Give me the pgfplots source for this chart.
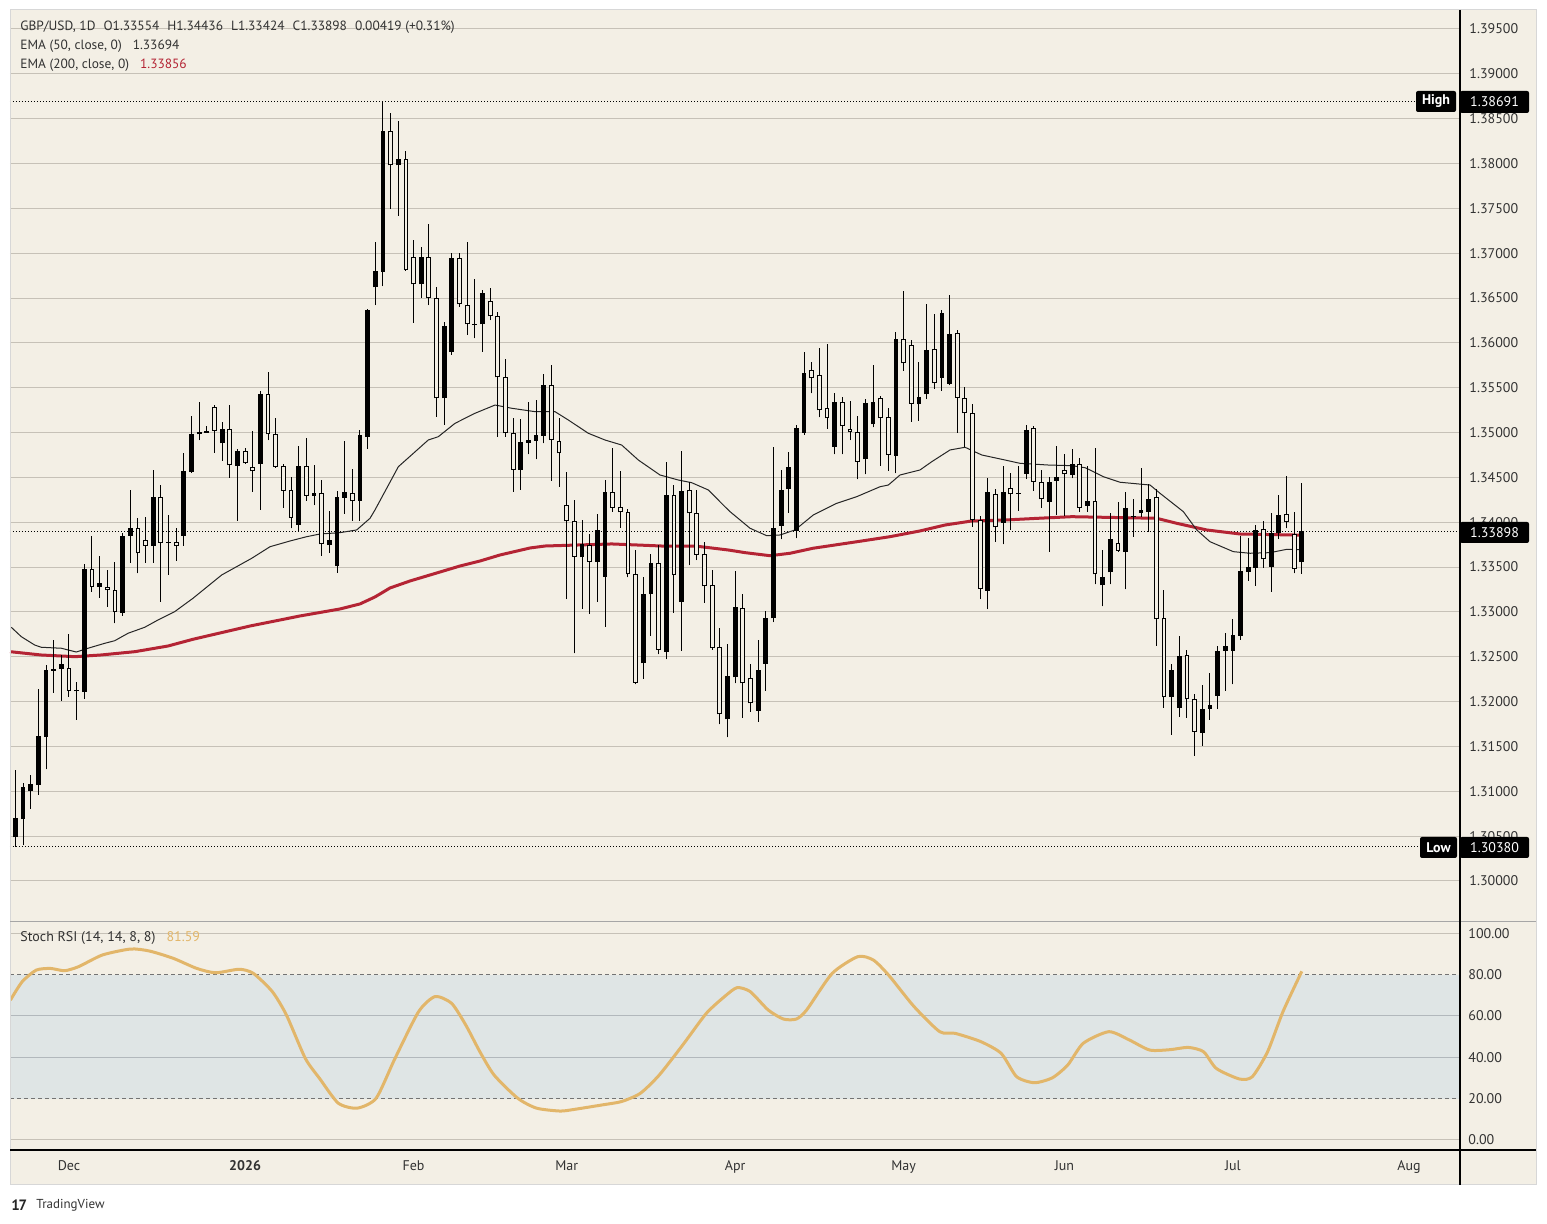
\documentclass[border=0pt]{standalone}
\usepackage{fontspec}
\setmainfont{PT Sans}
\usepackage{pgfplots}
\usepackage{pgfplotstable}
\pgfplotsset{compat=1.18}
\definecolor{bg}{RGB}{243,239,229}
\definecolor{gridc}{RGB}{198,193,183}
\definecolor{band}{RGB}{223,229,229}
\definecolor{bandgrid}{RGB}{178,184,188}
\definecolor{emared}{RGB}{180,36,52}
\definecolor{stochc}{RGB}{226,182,106}
\definecolor{txt}{RGB}{50,50,50}
\definecolor{frame}{RGB}{215,215,215}

\pgfplotstableread{
i o h l c
-7 1.30487 1.31238 1.30380 1.30699
-6 1.30691 1.31089 1.30401 1.31051
-5 1.31007 1.31179 1.30806 1.31082
-4 1.31070 1.32141 1.30959 1.31617
-3 1.31609 1.32408 1.31245 1.32353
-2 1.32345 1.32687 1.32100 1.32360
-1 1.32367 1.32520 1.32010 1.32420
1 1.32113 1.32216 1.31795 1.32130
2 1.32111 1.33535 1.32033 1.33479
4 1.33281 1.33624 1.33159 1.33326
7 1.32992 1.33877 1.32958 1.33847
8 1.33847 1.34360 1.33549 1.33933
11 1.33735 1.34583 1.33549 1.34282
13 1.33769 1.34081 1.33412 1.33784
15 1.33850 1.34769 1.33739 1.34572
16 1.34564 1.35185 1.34553 1.34984
17 1.34981 1.35341 1.34917 1.35006
18 1.34999 1.35073 1.34999 1.35014
20 1.34880 1.35118 1.34686 1.35037
22 1.34631 1.34813 1.34014 1.34798
25 1.34653 1.35464 1.34137 1.35430
30 1.33973 1.34850 1.33906 1.34627
32 1.34296 1.34638 1.34192 1.34326
34 1.33746 1.34126 1.33661 1.33802
35 1.33512 1.34349 1.33438 1.34282
36 1.34274 1.34909 1.34092 1.34337
38 1.34240 1.35029 1.34014 1.34973
39 1.34954 1.36378 1.34817 1.36367
40 1.36620 1.37125 1.36422 1.36802
41 1.36794 1.38691 1.36634 1.38363
43 1.37980 1.38474 1.37415 1.38047
46 1.36653 1.37069 1.36504 1.36954
49 1.35382 1.36233 1.35088 1.36188
50 1.35902 1.36999 1.35865 1.36943
53 1.36199 1.36712 1.36051 1.36215
54 1.36207 1.36590 1.35902 1.36553
59 1.34583 1.35148 1.34360 1.34892
60 1.34887 1.35344 1.34758 1.34917
61 1.34909 1.35363 1.34702 1.34970
62 1.34965 1.35653 1.34880 1.35530
67 1.33609 1.34025 1.33033 1.33758
69 1.33554 1.34089 1.33114 1.33914
70 1.33393 1.34471 1.32835 1.34334
75 1.32427 1.33386 1.32256 1.33200
76 1.33197 1.33646 1.32735 1.33542
78 1.32557 1.34669 1.32472 1.34301
80 1.33114 1.34795 1.32568 1.34349
86 1.31803 1.32643 1.31602 1.32286
87 1.32271 1.33457 1.32204 1.33052
90 1.31899 1.32687 1.31776 1.32353
91 1.32420 1.33011 1.32122 1.32929
92 1.32929 1.34836 1.32885 1.33933
93 1.33962 1.34583 1.33810 1.34360
94 1.34368 1.34780 1.34107 1.34619
95 1.33906 1.35084 1.33821 1.35048
96 1.34999 1.35895 1.34973 1.35661
100 1.34842 1.35438 1.34758 1.35338
104 1.34702 1.35374 1.34535 1.35326
105 1.35092 1.35753 1.35059 1.35338
108 1.34742 1.36118 1.34546 1.36040
111 1.35315 1.35784 1.35132 1.35393
112 1.35427 1.36430 1.35374 1.35917
114 1.35612 1.36367 1.35464 1.36330
115 1.35542 1.36534 1.35530 1.36096
120 1.33237 1.34490 1.33030 1.34334
122 1.33995 1.34627 1.33754 1.34334
124 1.34315 1.34627 1.34129 1.34331
125 1.34541 1.35081 1.34482 1.35025
128 1.34229 1.34505 1.33672 1.34446
129 1.34463 1.34847 1.34081 1.34505
131 1.34527 1.34817 1.34490 1.34650
133 1.34185 1.34627 1.34118 1.34237
135 1.33295 1.33691 1.33063 1.33384
136 1.33442 1.34100 1.33308 1.33810
138 1.33672 1.34334 1.33252 1.34156
139 1.34054 1.34256 1.33839 1.34070
140 1.34107 1.34602 1.34062 1.34137
141 1.34118 1.34427 1.33895 1.34259
144 1.32055 1.32420 1.31628 1.32353
145 1.31926 1.32732 1.31832 1.32509
148 1.31654 1.32185 1.31509 1.31918
149 1.31918 1.32316 1.31795 1.31962
150 1.32066 1.32624 1.31915 1.32565
151 1.32568 1.32765 1.32122 1.32620
152 1.32568 1.32921 1.32193 1.32743
153 1.32735 1.33847 1.32687 1.33457
154 1.33449 1.33821 1.33348 1.33501
155 1.33493 1.33969 1.33293 1.33914
157 1.33504 1.34107 1.33226 1.33884
158 1.33877 1.34304 1.33813 1.34081
161 1.33554 1.34436 1.33424 1.33898
}\bull

\pgfplotstableread{
i o h l c
0 1.32372 1.32754 1.32055 1.32122
3 1.33479 1.33847 1.33226 1.33281
5 1.33281 1.33468 1.33058 1.33241
6 1.33241 1.33557 1.32873 1.32996
9 1.33933 1.34047 1.33431 1.33654
10 1.33802 1.34059 1.33549 1.33735
12 1.34282 1.34415 1.33114 1.33772
14 1.33777 1.33936 1.33571 1.33735
19 1.35282 1.35307 1.34776 1.35021
21 1.35037 1.35307 1.34497 1.34635
23 1.34795 1.34825 1.34650 1.34657
24 1.34613 1.35018 1.34341 1.34568
26 1.35430 1.35675 1.34917 1.34981
27 1.34984 1.35162 1.34608 1.34619
28 1.34624 1.34650 1.34162 1.34352
29 1.34360 1.34501 1.33933 1.34051
31 1.34627 1.34936 1.34240 1.34296
33 1.34323 1.34471 1.33627 1.33754
37 1.34323 1.34597 1.34014 1.34234
42 1.38363 1.38567 1.37496 1.37980
44 1.38047 1.38140 1.36805 1.36813
45 1.36954 1.37147 1.36225 1.36653
47 1.36954 1.37326 1.36422 1.36497
48 1.36497 1.36626 1.35177 1.35382
51 1.36943 1.36999 1.36403 1.36430
52 1.36419 1.37125 1.36088 1.36207
55 1.36467 1.36612 1.36255 1.36296
56 1.36296 1.36344 1.34954 1.35616
57 1.35616 1.35820 1.34954 1.34992
58 1.34992 1.35159 1.34341 1.34583
63 1.35530 1.35753 1.34460 1.34917
64 1.34909 1.35162 1.34396 1.34769
65 1.34189 1.34557 1.33144 1.34011
66 1.34011 1.34248 1.32539 1.33613
68 1.33750 1.33869 1.32977 1.33554
71 1.34334 1.34825 1.34118 1.34162
72 1.34167 1.34572 1.33939 1.34111
73 1.34111 1.34145 1.33386 1.33420
74 1.33420 1.33691 1.32193 1.32211
77 1.33542 1.33743 1.32528 1.32576
79 1.34301 1.34415 1.32992 1.33409
81 1.34356 1.34452 1.33523 1.34100
82 1.34100 1.34360 1.33579 1.33638
83 1.33643 1.33777 1.33103 1.33286
84 1.33300 1.33468 1.32580 1.32595
85 1.32606 1.32821 1.31747 1.31859
88 1.33041 1.33197 1.31821 1.32204
89 1.32260 1.32420 1.31888 1.31981
97 1.35694 1.35787 1.35438 1.35605
98 1.35639 1.35946 1.35170 1.35248
99 1.35277 1.35984 1.35040 1.35159
101 1.35338 1.35393 1.34758 1.35070
102 1.35037 1.35352 1.34917 1.35003
103 1.35003 1.35185 1.34479 1.34669
106 1.35382 1.35408 1.34631 1.35159
107 1.35177 1.35271 1.34575 1.34750
109 1.36040 1.36579 1.35690 1.35772
110 1.35973 1.36029 1.35121 1.35319
113 1.35929 1.36322 1.35486 1.35549
116 1.36107 1.36144 1.34999 1.35389
117 1.35389 1.35508 1.34842 1.35215
118 1.35215 1.35319 1.33950 1.34025
119 1.34025 1.34070 1.33144 1.33256
121 1.34318 1.34371 1.33783 1.33944
123 1.34379 1.34549 1.33914 1.34312
126 1.35048 1.35073 1.34352 1.34452
127 1.34452 1.34579 1.34162 1.34256
130 1.34579 1.34758 1.34073 1.34535
132 1.34646 1.34716 1.34118 1.34162
134 1.34234 1.34825 1.33308 1.33420
137 1.33765 1.34223 1.33670 1.33680
142 1.34278 1.34368 1.32624 1.32918
143 1.32929 1.33245 1.31932 1.32048
146 1.32517 1.32572 1.31821 1.32026
147 1.32026 1.32082 1.31397 1.31665
156 1.33922 1.34014 1.33493 1.33587
159 1.34092 1.34516 1.33933 1.34000
160 1.33866 1.34111 1.33431 1.33476
}\bear

\newcommand{\tvfont}{\fontsize{7}{8}\selectfont}
\newcommand{\hdfont}{\fontsize{6.7}{7.5}\selectfont}
\pgfplotsset{candle/.style={forget plot, only marks, mark=*, mark size=0pt,
  mark options={draw=none, fill=none}, error bars/.cd, y dir=plus, y explicit, error mark=none}}

\begin{document}
\begin{tikzpicture}
\fill[white] (0pt,0pt) rectangle (773.5pt,612pt);
\begin{scope}[shift={(0pt,612pt)}, x=0.5pt, y=-0.5pt]
  \fill[bg] (10,10) rectangle (1536,1185);
\end{scope}

% ---------- main price panel ----------
\begin{axis}[
  at={(5pt,152pt)}, anchor=south west, scale only axis,
  width=725pt, height=455pt,
  xmin=-7.705, xmax=181.66, ymin=1.29565, ymax=1.39712,
  axis line style={draw=none}, major tick length=0pt,
  xtick=\empty,
  ytick={1.300,1.305,1.310,1.315,1.320,1.325,1.330,1.335,1.340,1.345,1.350,1.355,1.360,1.365,1.370,1.375,1.380,1.385,1.390,1.395},
  scaled y ticks=false,
  yticklabel pos=right,
  yticklabel={\pgfmathprintnumber[fixed,fixed zerofill,precision=5,assume math mode=true]{\tick}},
  yticklabel style={anchor=west, inner sep=0pt, xshift=4.5pt, font=\tvfont, text=txt},
  ymajorgrids, major grid style={gridc, line width=0.5pt},
]
% dotted reference lines
\addplot[black, line width=0.5pt, dash pattern=on 0.5pt off 1pt] coordinates {(-7.705,1.38691) (175.9,1.38691)};
\addplot[black, line width=0.5pt, dash pattern=on 0.5pt off 1pt] coordinates {(-7.705,1.30380) (176.4,1.30380)};
\addplot[black, line width=0.5pt, dash pattern=on 0.5pt off 1pt] coordinates {(-7.705,1.33898) (181.66,1.33898)};
% EMA 200
\addplot[emared, line width=1.5pt, line join=round] coordinates {
(-7.7,1.32557) (-3.66,1.32520) (0.78,1.32501) (4.18,1.32520) (8.62,1.32557) (12.93,1.32620) (16.19,1.32695) (23.64,1.32843) (30.17,1.32955) (35.39,1.33033) (38.0,1.33089) (39.96,1.33167) (41.92,1.33267) (44.53,1.33345) (47.15,1.33412) (51.06,1.33512) (53.68,1.33568) (56.29,1.33635) (60.21,1.33713) (62.17,1.33735) (70.88,1.33758) (77.41,1.33735) (81.76,1.33735) (86.07,1.33691) (88.29,1.33661) (91.55,1.33627) (94.16,1.33654) (97.17,1.33710) (102.91,1.33783) (107.22,1.33839) (111.14,1.33903) (114.4,1.33969) (117.89,1.34014) (122.24,1.34025) (126.55,1.34044) (130.95,1.34062) (135.3,1.34055) (142.05,1.34044) (144.67,1.33988) (148.58,1.33914) (152.93,1.33869) (161,1.33856)};
% EMA 50
\addplot[black!85, line width=0.5pt, line join=round] coordinates {
(-7.54,1.32829) (-6.23,1.32724) (-4.48,1.32631) (-3.62,1.32606) (-1.0,1.32595) (0.95,1.32553) (2.48,1.32595) (4.66,1.32650) (5.97,1.32679) (7.71,1.32762) (9.89,1.32829) (11.62,1.32910) (13.8,1.33003) (16.19,1.33152) (19.94,1.33412) (23.86,1.33598) (26.25,1.33727) (28.86,1.33791) (31.04,1.33839) (32.78,1.33869) (35.39,1.33884) (37.57,1.33914) (39.31,1.34044) (39.96,1.34137) (43.01,1.34619) (46.92,1.34917) (48.23,1.34954) (50.41,1.35103) (53.02,1.35215) (55.64,1.35307) (57.82,1.35271) (60.86,1.35233) (63.47,1.35233) (65.21,1.35140) (67.82,1.34992) (70.0,1.34917) (72.18,1.34861) (74.35,1.34694) (77.18,1.34527) (79.57,1.34471) (81.32,1.34441) (83.49,1.34360) (85.67,1.34173) (86.33,1.34118) (88.94,1.33933) (91.12,1.33850) (92.86,1.33858) (94.81,1.33914) (97.2,1.34081) (100.26,1.34211) (102.87,1.34285) (105.92,1.34396) (107.0,1.34415) (108.53,1.34527) (111.14,1.34583) (112.67,1.34675) (115.06,1.34806) (117.02,1.34836) (119.2,1.34750) (122.24,1.34694) (124.2,1.34657) (127.9,1.34638) (130.95,1.34631) (132.69,1.34608) (133.34,1.34583) (135.08,1.34508) (137.26,1.34446) (141.18,1.34415) (142.48,1.34323) (145.53,1.34118) (147.28,1.33914) (149.01,1.33783) (152.06,1.33672) (154.24,1.33654) (156.85,1.33661) (159.03,1.33698) (161,1.33694)};
% wicks
\addplot[candle, error bar style={line width=0.5pt, black}]
  table[x=i, y=l, y error expr=\thisrow{h}-\thisrow{l}] {\bull};
\addplot[candle, error bar style={line width=0.5pt, black}]
  table[x=i, y=l, y error expr=\thisrow{h}-\thisrow{l}] {\bear};
% bull bodies (filled black)
\addplot[candle, error bar style={line width=2.4pt, black}]
  table[x=i, y=o, y error expr=\thisrow{c}-\thisrow{o}] {\bull};
% bear bodies (hollow)
\addplot[candle, error bar style={line width=2.4pt, black}]
  table[x=i, y=c, y error expr=\thisrow{o}-\thisrow{c}] {\bear};
\addplot[candle, error bar style={line width=1.4pt, bg, shorten <=0.5pt, shorten >=0.5pt}]
  table[x=i, y=c, y error expr=\thisrow{o}-\thisrow{c}] {\bear};
\end{axis}

% ---------- Stoch RSI panel ----------
\begin{axis}[
  at={(5pt,37pt)}, anchor=south west, scale only axis,
  width=725pt, height=114pt,
  xmin=-7.705, xmax=181.66, ymin=-4.84, ymax=105.47,
  axis line style={draw=none}, major tick length=0pt,
  xtick={0,23,45,65,87,109,130,152,175},
  xticklabels={Dec,\textbf{2026},Feb,Mar,Apr,May,Jun,Jul,Aug},
  xticklabel style={anchor=base, inner sep=0pt, yshift=-10.5pt, font=\tvfont, text=txt},
  ytick={0,20,40,60,80,100},
  yticklabel pos=right,
  yticklabel={\pgfmathprintnumber[fixed,fixed zerofill,precision=2,assume math mode=true]{\tick}},
  yticklabel style={anchor=west, inner sep=0pt, xshift=4pt, font=\tvfont, text=txt},
]
\addplot[fill=band, draw=none] coordinates {(-7.705,20) (181.66,20) (181.66,80) (-7.705,80)} -- cycle;
\addplot[gridc, line width=0.5pt] coordinates {(-7.705,0) (181.66,0)};
\addplot[gridc, line width=0.5pt] coordinates {(-7.705,100) (181.66,100)};
\addplot[bandgrid, line width=0.5pt] coordinates {(-7.705,40) (181.66,40)};
\addplot[bandgrid, line width=0.5pt] coordinates {(-7.705,60) (181.66,60)};
\addplot[black!55, line width=0.5pt, dash pattern=on 2pt off 1.5pt] coordinates {(-7.705,20) (181.66,20)};
\addplot[black!55, line width=0.5pt, dash pattern=on 2pt off 1.5pt] coordinates {(-7.705,80) (181.66,80)};
\addplot[stochc, line width=1.5pt, smooth, tension=0.4, line join=round] coordinates {
(-7.65,67.7) (-6.11,76.6) (-4.27,82.2) (-2.42,83.0) (-0.57,81.9) (1.28,83.9) (4.36,89.5) (8.06,92.4) (10.53,91.4) (13.61,87.9) (16.69,83.0) (19.15,80.9) (22.23,82.6) (24.08,80.6) (26.55,71.8) (28.39,60.5) (30.86,39.5) (32.72,29.8) (35.17,17.8) (37.64,15.4) (40.11,20.2) (42.58,39.5) (45.66,62.1) (47.81,69.4) (49.97,66.1) (51.82,55.6) (53.66,42.7) (55.52,31.4) (58.6,20.2) (61.06,15.4) (64.14,14.0) (65.99,14.8) (69.69,17.0) (72.16,18.6) (74.62,22.6) (77.08,31.4) (80.16,46.0) (83.24,61.3) (85.71,69.7) (87.25,73.7) (88.96,71.8) (91.31,62.9) (93.31,58.5) (94.98,58.5) (96.33,62.9) (99.67,80.6) (103.02,88.7) (105.03,87.1) (107.03,79.8) (110.37,64.5) (113.71,52.4) (115.72,51.6) (119.07,47.6) (121.74,41.9) (123.76,30.6) (126.09,27.7) (128.43,30.1) (130.44,36.3) (132.46,46.8) (135.8,52.4) (138.47,48.4) (141.14,43.5) (143.82,43.7) (146.16,44.8) (148.17,42.7) (149.84,34.6) (152.86,29.5) (154.53,30.6) (156.53,42.7) (158.54,62.1) (161,81.59)};
\end{axis}

% ---------- frame, separators, labels ----------
\begin{scope}[shift={(0pt,612pt)}, x=0.5pt, y=-0.5pt]
  \draw[frame, line width=0.5pt] (10,10) rectangle (1536,1185);
  \draw[black!35, line width=0.6pt] (10,921.5) -- (1536,921.5);
  \draw[black, line width=0.6pt] (1460,10) -- (1460,1185);
  \draw[black, line width=0.6pt] (10,1150) -- (1536,1150);
  % header
  \node[anchor=west, inner sep=0pt, font=\hdfont, text=txt] at (20,27)
    {GBP/USD, 1D\hspace{4pt}O1.33554\hspace{4pt}H1.34436\hspace{4pt}L1.33424\hspace{4pt}C1.33898\hspace{4pt}0.00419 (+0.31\%)};
  \node[anchor=west, inner sep=0pt, font=\hdfont, text=txt] at (20,46)
    {EMA (50, close, 0)\hspace{5.5pt}1.33694};
  \node[anchor=west, inner sep=0pt, font=\hdfont, text=txt] at (20,65)
    {EMA (200, close, 0)\hspace{5.5pt}\textcolor{emared}{1.33856}};
  \node[anchor=west, inner sep=0pt, font=\fontsize{7}{8}\selectfont, text=txt] at (20,938)
    {Stoch RSI (14, 14, 8, 8)\hspace{5.5pt}\textcolor{stochc}{81.59}};
  % price boxes
  \fill[black, rounded corners=1pt] (1416,91) rectangle (1456,112);
  \node[text=white, font=\tvfont\bfseries, inner sep=0pt] at (1436,101.5) {High};
  \fill[black, rounded corners=1pt] (1460,91) rectangle (1529,113);
  \node[text=white, font=\tvfont, inner sep=0pt] at (1494.5,102) {1.38691};
  \fill[black, rounded corners=1pt] (1460,522) rectangle (1529,543);
  \node[text=white, font=\tvfont, inner sep=0pt] at (1494.5,532.5) {1.33898};
  \fill[black, rounded corners=1pt] (1420,837) rectangle (1457,858);
  \node[text=white, font=\tvfont\bfseries, inner sep=0pt] at (1438.5,847.5) {Low};
  \fill[black, rounded corners=1pt] (1460,837) rectangle (1529,858);
  \node[text=white, font=\tvfont, inner sep=0pt] at (1494.5,847.5) {1.30380};
  % logo
  \node[anchor=west, inner sep=0pt, font=\fontsize{7.5}{8}\selectfont\bfseries, text=black!85] at (11,1205) {1\kern-0.6pt7};
  \node[anchor=west, inner sep=0pt, font=\fontsize{6.5}{8}\selectfont, text=black!80] at (36,1205) {TradingView};
\end{scope}
\end{tikzpicture}
\end{document}
